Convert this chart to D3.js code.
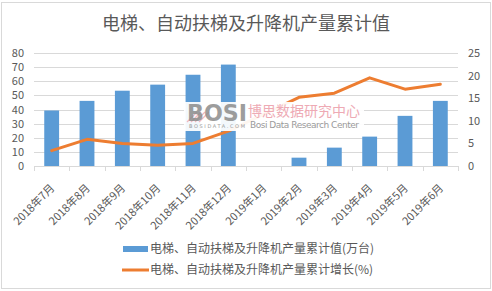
<!DOCTYPE html>
<html>
<head>
<meta charset="utf-8">
<script src="https://cdn.jsdelivr.net/npm/d3@7"></script>
<style>
  body { margin: 0; background: #fff; }
  svg { display: block; font-family: "Microsoft YaHei", "Noto Sans CJK SC", sans-serif; }
</style>
</head>
<body>
<script>
// chart data
var months = ["2018年7月", "2018年8月", "2018年9月", "2018年10月", "2018年11月", "2018年12月",
  "2019年1月", "2019年2月", "2019年3月", "2019年4月", "2019年5月", "2019年6月"];
var outputValues = [39.3, 46.1, 53.3, 57.6, 64.6, 71.8, null, 5.9, 13.0, 20.8, 35.5, 46.1];
var growthValues = [3.4, 5.9, 5.0, 4.6, 5.0, 7.7, null, 15.2, 16.1, 19.5, 17.0, 18.1];
var leftTicks = [0, 10, 20, 30, 40, 50, 60, 70, 80];
var rightTicks = [0, 5, 10, 15, 20, 25];
var seriesNames = ["电梯、自动扶梯及升降机产量累计值(万台)", "电梯、自动扶梯及升降机产量累计增长(%)"];

var svgWidth = 492;
var svgHeight = 291;

var chartMargin = { top: 53, right: 34, bottom: 125, left: 34 };
var chartWidth = svgWidth - chartMargin.left - chartMargin.right;
var chartHeight = svgHeight - chartMargin.top - chartMargin.bottom;

var textColor = "#595959";
var gridColor = "#d9d9d9";

var svg = d3.select("body")
  .append("svg")
  .attr("width", svgWidth)
  .attr("height", svgHeight);

// outer frame
svg.append("rect")
  .attr("x", 1.5).attr("y", 2.5)
  .attr("width", 489).attr("height", 286)
  .attr("fill", "#fff")
  .attr("stroke", gridColor);

// title
svg.append("text")
  .attr("x", 246).attr("y", 30)
  .attr("text-anchor", "middle")
  .attr("font-size", 18)
  .attr("fill", textColor)
  .text("电梯、自动扶梯及升降机产量累计值");

var chartGroup = svg.append("g")
  .attr("transform", `translate(${chartMargin.left}, ${chartMargin.top})`);

var xBandScale = d3.scaleBand()
  .domain(months)
  .range([0, chartWidth]);

var yLeft = d3.scaleLinear().domain([0, 80]).range([chartHeight, 0]);
var yRight = d3.scaleLinear().domain([0, 25]).range([chartHeight, 0]);

// gridlines
chartGroup.selectAll(".grid")
  .data(leftTicks.slice(1))
  .enter()
  .append("line")
  .attr("x1", 0).attr("x2", chartWidth)
  .attr("y1", d => Math.round(yLeft(d)) + 0.5)
  .attr("y2", d => Math.round(yLeft(d)) + 0.5)
  .attr("stroke", gridColor);

// left axis labels
var leftAxis = d3.axisLeft(yLeft).tickValues(leftTicks).tickSize(0).tickPadding(10);
var gl = chartGroup.append("g").call(leftAxis);
gl.select(".domain").remove();
gl.selectAll("text").attr("font-size", 11).attr("fill", textColor)
  .style("font-family", "'Microsoft YaHei', 'Noto Sans CJK SC', sans-serif");

// right axis labels
var rightAxis = d3.axisRight(yRight).tickValues(rightTicks).tickSize(0).tickPadding(10);
var gr = chartGroup.append("g").attr("transform", `translate(${chartWidth}, 0)`).call(rightAxis);
gr.select(".domain").remove();
gr.selectAll("text").attr("font-size", 11).attr("fill", textColor)
  .style("font-family", "'Microsoft YaHei', 'Noto Sans CJK SC', sans-serif");

// bars
var barWidth = xBandScale.bandwidth() * 0.42;
chartGroup.selectAll(".bar")
  .data(months.map((m, i) => ({ m: m, v: outputValues[i] })).filter(d => d.v !== null))
  .enter()
  .append("rect")
  .attr("class", "bar")
  .attr("x", d => xBandScale(d.m) + (xBandScale.bandwidth() - barWidth) / 2)
  .attr("y", d => yLeft(d.v))
  .attr("width", barWidth)
  .attr("height", d => chartHeight - yLeft(d.v))
  .attr("fill", "#5b9bd5");

// x axis line and ticks
chartGroup.append("line")
  .attr("x1", 0).attr("x2", chartWidth)
  .attr("y1", chartHeight + 0.5).attr("y2", chartHeight + 0.5)
  .attr("stroke", gridColor);
chartGroup.selectAll(".xtick")
  .data(months.concat(["end"]))
  .enter()
  .append("line")
  .attr("x1", (d, i) => Math.round(i * xBandScale.step()) + 0.5)
  .attr("x2", (d, i) => Math.round(i * xBandScale.step()) + 0.5)
  .attr("y1", chartHeight).attr("y2", chartHeight + 5)
  .attr("stroke", gridColor);

// x labels
chartGroup.selectAll(".xlabel")
  .data(months)
  .enter()
  .append("text")
  .attr("transform", d => `translate(${xBandScale(d) + xBandScale.bandwidth() / 2 + 1}, ${chartHeight + 20}) rotate(-45)`)
  .attr("text-anchor", "end")
  .attr("dy", "0.35em")
  .attr("font-size", 11)
  .attr("fill", textColor)
  .text(d => d);

// growth line (gap month skipped, neighbours joined)
var linePoints = months.map((m, i) => ({ m: m, v: growthValues[i] })).filter(d => d.v !== null);
var growthLine = d3.line()
  .x(d => xBandScale(d.m) + xBandScale.bandwidth() / 2)
  .y(d => yRight(d.v));
chartGroup.append("path")
  .datum(linePoints)
  .attr("d", growthLine)
  .attr("fill", "none")
  .attr("stroke", "#ed7d31")
  .attr("stroke-width", 3)
  .attr("stroke-linejoin", "round")
  .attr("stroke-linecap", "round");

// watermark
var wm = svg.append("g");
wm.append("rect")
  .attr("x", 184).attr("y", 102)
  .attr("width", 180).attr("height", 29)
  .attr("fill", "#fff").attr("opacity", 0.93);
var stripes = wm.append("g").attr("stroke", "#f2b8c0").attr("stroke-width", 1.2);
[0, 4, 8, 12].forEach(function(o) {
  stripes.append("line")
    .attr("x1", 187 + o).attr("y1", 122)
    .attr("x2", 197 + o).attr("y2", 112);
});
wm.append("text")
  .attr("x", 187).attr("y", 121)
  .attr("font-size", 23).attr("font-weight", "bold")
  .attr("font-family", "'DejaVu Sans', sans-serif")
  .attr("textLength", 60).attr("lengthAdjust", "spacingAndGlyphs")
  .attr("fill", "#8c8c8c").attr("opacity", 0.85)
  .text("BOSI");
wm.append("text")
  .attr("x", 189).attr("y", 128)
  .attr("font-size", 5)
  .attr("font-family", "'DejaVu Sans', sans-serif")
  .attr("textLength", 56)
  .attr("fill", "#9a9a9a")
  .text("BOSIDATA.COM");
wm.append("text")
  .attr("x", 248).attr("y", 116)
  .attr("font-size", 14)
  .attr("fill", "#eeaab4")
  .text("博思数据研究中心");
wm.append("text")
  .attr("x", 250).attr("y", 128)
  .attr("font-size", 9)
  .attr("font-family", "'DejaVu Sans', sans-serif")
  .attr("textLength", 109)
  .attr("fill", "#9a9a9a")
  .text("Bosi Data Research Center");

// legend
var legend = svg.append("g");
legend.append("rect")
  .attr("x", 123).attr("y", 246)
  .attr("width", 25).attr("height", 6)
  .attr("fill", "#5b9bd5");
legend.append("line")
  .attr("x1", 122).attr("x2", 149)
  .attr("y1", 270).attr("y2", 270)
  .attr("stroke", "#ed7d31").attr("stroke-width", 3);
legend.selectAll(".legtext")
  .data(seriesNames)
  .enter()
  .append("text")
  .attr("x", 150)
  .attr("y", (d, i) => 249 + i * 21)
  .attr("dy", "0.35em")
  .attr("font-size", 12)
  .attr("fill", textColor)
  .text(d => d);
</script>
</body>
</html>
